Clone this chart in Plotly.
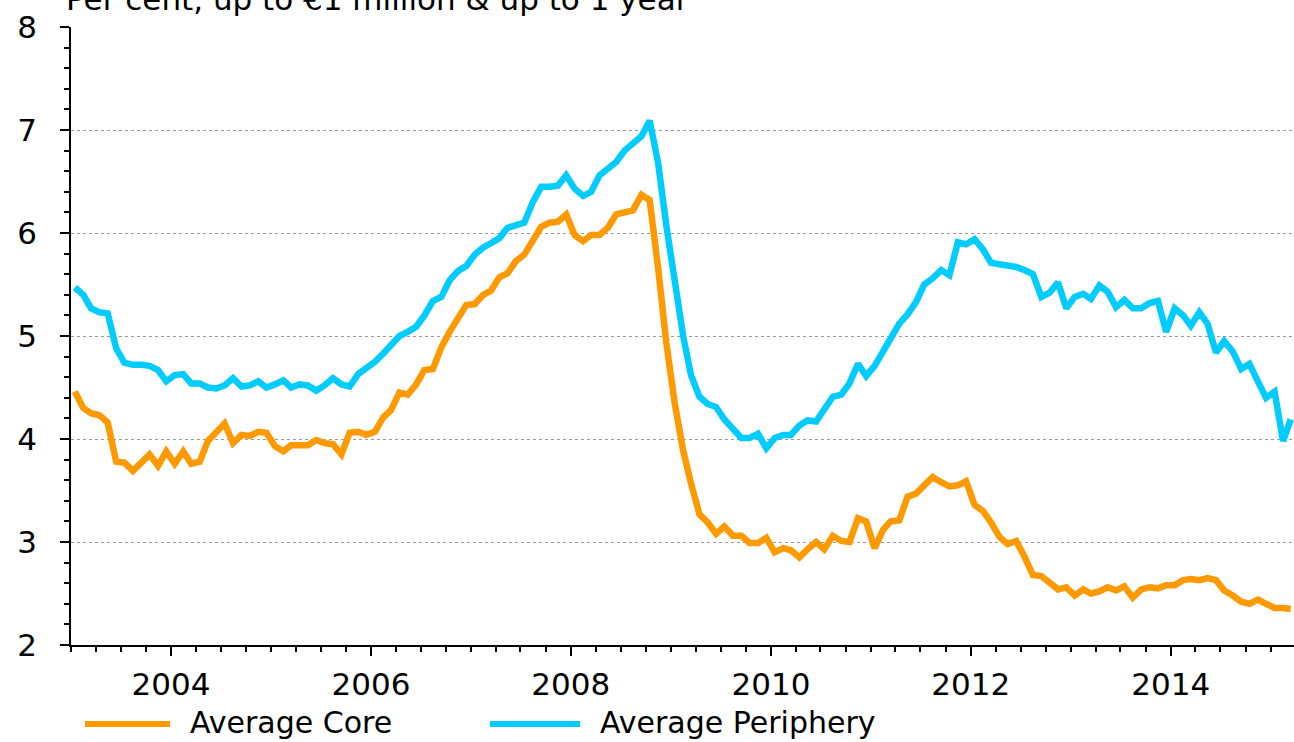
import pandas as pd
import plotly.graph_objects as go

# ---------------- data (monthly, Jan 2003 - Mar 2015) ----------------
months = pd.date_range("2003-01-01", periods=147, freq="MS") + pd.Timedelta(days=14)

core = [
    4.46, 4.30, 4.25, 4.23, 4.16, 3.78, 3.77, 3.69, 3.77, 3.85, 3.74, 3.88,
    3.76, 3.88, 3.76, 3.78, 3.98, 4.06, 4.15, 3.96, 4.04, 4.03, 4.07, 4.06,
    3.93, 3.88, 3.94, 3.94, 3.94, 3.99, 3.96, 3.95, 3.85, 4.06, 4.07, 4.04,
    4.07, 4.21, 4.28, 4.45, 4.43, 4.53, 4.67, 4.68, 4.89, 5.04, 5.17, 5.30,
    5.31, 5.40, 5.44, 5.57, 5.61, 5.73, 5.79, 5.93, 6.06, 6.10, 6.11, 6.18,
    5.98, 5.92, 5.98, 5.98, 6.05, 6.18, 6.20, 6.22, 6.37, 6.32, 5.66, 4.93,
    4.34, 3.88, 3.57, 3.27, 3.19, 3.08, 3.15, 3.06, 3.06, 2.99, 2.99, 3.04,
    2.90, 2.94, 2.92, 2.85, 2.93, 3.00, 2.93, 3.06, 3.01, 3.00, 3.23, 3.20,
    2.94, 3.12, 3.20, 3.21, 3.44, 3.47, 3.55, 3.63, 3.58, 3.54, 3.55, 3.59,
    3.36, 3.30, 3.19, 3.05, 2.98, 3.01, 2.86, 2.68, 2.67, 2.60, 2.54, 2.56,
    2.48, 2.54, 2.50, 2.52, 2.56, 2.53, 2.57, 2.46, 2.54, 2.56, 2.55, 2.58,
    2.58, 2.63, 2.64, 2.63, 2.65, 2.63, 2.53, 2.48, 2.42, 2.40, 2.44, 2.40,
    2.36, 2.36, 2.35,
]

periphery = [
    5.47, 5.40, 5.27, 5.23, 5.22, 4.88, 4.74, 4.72, 4.72, 4.71, 4.67, 4.56,
    4.62, 4.63, 4.54, 4.54, 4.50, 4.49, 4.52, 4.59, 4.51, 4.52, 4.56, 4.50,
    4.53, 4.57, 4.50, 4.53, 4.52, 4.47, 4.52, 4.59, 4.53, 4.51, 4.63, 4.68,
    4.75, 4.83, 4.91, 5.00, 5.04, 5.09, 5.20, 5.34, 5.38, 5.54, 5.63, 5.68,
    5.79, 5.86, 5.90, 5.95, 6.05, 6.07, 6.10, 6.30, 6.45, 6.45, 6.46, 6.56,
    6.43, 6.36, 6.40, 6.56, 6.62, 6.69, 6.80, 6.87, 6.94, 7.09, 6.68, 6.07,
    5.50, 4.99, 4.62, 4.41, 4.34, 4.31, 4.19, 4.09, 4.01, 4.01, 4.05, 3.91,
    4.01, 4.04, 4.04, 4.13, 4.18, 4.17, 4.28, 4.41, 4.43, 4.54, 4.73, 4.61,
    4.71, 4.85, 4.96, 5.12, 5.21, 5.33, 5.50, 5.56, 5.64, 5.59, 5.91, 5.89,
    5.94, 5.84, 5.71, 5.70, 5.69, 5.67, 5.64, 5.60, 5.38, 5.42, 5.52, 5.27,
    5.38, 5.41, 5.36, 5.49, 5.43, 5.28, 5.35, 5.27, 5.27, 5.32, 5.34, 5.04,
    5.27, 5.20, 5.10, 5.23, 5.12, 4.84, 4.95, 4.85, 4.68, 4.73, 4.56, 4.40,
    4.46, 3.98, 4.19,
]

series_names = ["Average Core", "Average Periphery"]
series_colors = ["#FF9900", "#00CCFF"]
title_text = "Per cent, up to €1 million & up to 1 year"

# ---------------- layout constants (pixels) ----------------
W, H = 1294, 742
ML, MR, MT, MB = 71, 0, 27, 97
PW, PH = W - ML - MR, H - MT - MB
FONT = "DejaVu Sans"
FS = 31
FS_LEG = 30


def px_x(px):
    return (px - ML) / PW


def px_y(py):
    return (H - MB - py) / PH


fig = go.Figure()
for name, vals, col in zip(series_names, [core, periphery], series_colors):
    fig.add_trace(go.Scatter(
        x=months, y=vals, mode="lines", name=name,
        line=dict(color=col, width=6.5), showlegend=False,
    ))

fig.update_layout(
    width=W, height=H,
    margin=dict(l=ML, r=MR, t=MT, b=MB),
    paper_bgcolor="white", plot_bgcolor="white",
    font=dict(family=FONT, size=FS, color="black"),
)

fig.update_xaxes(
    type="date",
    range=["2003-01-01", "2015-03-27"],
    showline=True, linecolor="black", linewidth=1.5,
    ticks="outside", ticklen=9, tickwidth=1.5, tickcolor="black",
    tick0="2004-01-01", dtick="M24", tickformat="%Y",
    minor=dict(ticks="outside", ticklen=5, tickwidth=1.5, tickcolor="black",
               dtick="M3", tick0="2003-01-01", showgrid=False),
    showgrid=False, zeroline=False,
    tickfont=dict(family=FONT, size=FS, color="black"),
    ticklabelstandoff=2,
)

fig.update_yaxes(
    range=[2, 8], dtick=1, tick0=2,
    showgrid=True, gridcolor="#9a9a9a", gridwidth=1, griddash="dot",
    showline=True, linecolor="black", linewidth=1.5,
    ticks="outside", ticklen=9, tickwidth=1.5, tickcolor="black",
    minor=dict(ticks="outside", ticklen=5, tickwidth=1.5, tickcolor="black",
               dtick=0.2, showgrid=False),
    zeroline=False,
    tickfont=dict(family=FONT, size=FS, color="black"),
    ticklabelstandoff=17,
)

# title (partly cut at the top, as in the reference)
fig.add_annotation(
    text=title_text, xref="paper", yref="paper",
    x=px_x(64), y=px_y(-1), xanchor="left", yanchor="middle",
    showarrow=False, font=dict(family=FONT, size=FS, color="black"),
)

# custom legend (long line samples)
legend_items = [
    (series_names[0], series_colors[0], 85, 170, 188),
    (series_names[1], series_colors[1], 490, 580, 598),
]
LEG_LINE_Y = 724
LEG_TEXT_Y = 722
for name, col, x0, x1, tx in legend_items:
    fig.add_shape(type="line", xref="paper", yref="paper",
                  x0=px_x(x0), x1=px_x(x1), y0=px_y(LEG_LINE_Y), y1=px_y(LEG_LINE_Y),
                  line=dict(color=col, width=6))
    fig.add_annotation(text=name, xref="paper", yref="paper",
                       x=px_x(tx), y=px_y(LEG_TEXT_Y), xanchor="left", yanchor="middle",
                       showarrow=False,
                       font=dict(family=FONT, size=FS_LEG, color="black"))

fig.write_html(
    "out.html",
    config={"displayModeBar": False},
    post_script="document.body.style.margin='0';document.body.style.overflow='hidden';",
)
